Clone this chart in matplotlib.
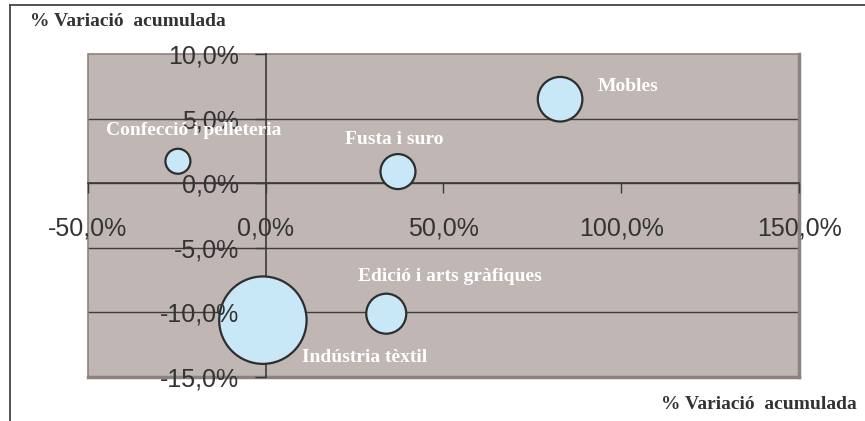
import matplotlib
matplotlib.use("Agg")
import matplotlib.pyplot as plt
from matplotlib.ticker import FuncFormatter, MultipleLocator
from matplotlib.lines import Line2D
from matplotlib.patches import Rectangle

sectors = ["Confecció i pelleteria", "Fusta i suro", "Mobles",
           "Edició i arts gràfiques", "Indústria tèxtil"]
var_x = [-24.7, 37.2, 82.8, 33.9, -0.8]      # % variació acumulada (eix X)
var_y = [1.7, 0.9, 6.5, -10.1, -10.6]        # % variació acumulada (eix Y)
bubble = [156, 306, 497, 400, 1910]          # mida relativa de la bombolla
axis_title = "% Variació  acumulada"

# label offsets in points from each bubble centre
offsets = [(11, 22), (-3, 23), (49, 9), (46, 27), (73, -27)]

def pct(v, pos):
    return "{:.1f}%".format(v).replace(".", ",")

fig = plt.figure(figsize=(8.65, 4.21), dpi=100)
ax = fig.add_axes([0.1017, 0.1045, 0.822, 0.7672])
ax.set_facecolor("#C0B6B4")

# bubble sizes: area proportional to the value (scale to points^2)
scale = 0.72 ** 2 * 4
sizes = [b * scale for b in bubble]
ax.scatter(var_x, var_y, s=sizes, facecolor="#C8E8F8", edgecolor="#2E2E2E",
           linewidth=1.6, zorder=4, clip_on=False)

for name, x, y, off in zip(sectors, var_x, var_y, offsets):
    ax.annotate(name, (x, y), xytext=off, textcoords="offset points",
                ha="center", va="center", color="white", fontweight="bold",
                fontsize=14, family="Liberation Serif", zorder=7)

ax.set_xlim(-50, 150)
ax.set_ylim(-15, 10)
ax.xaxis.set_major_locator(MultipleLocator(50))
ax.yaxis.set_major_locator(MultipleLocator(5))
ax.xaxis.set_major_formatter(FuncFormatter(pct))
ax.yaxis.set_major_formatter(FuncFormatter(pct))

# axes cross at zero, like the original
ax.spines["left"].set_position(("data", 0))
ax.spines["bottom"].set_position(("data", 0))
for s in ["left", "bottom"]:
    ax.spines[s].set_color("#3A3A3A")
    ax.spines[s].set_linewidth(1.2)
    ax.spines[s].set_zorder(3)
ax.spines["top"].set_visible(False)
ax.spines["right"].set_visible(False)

# horizontal gridlines drawn behind the bubbles
for v in ax.get_yticks():
    if -15 < v < 10:
        ax.axhline(v, color="#3E3E3E", linewidth=1.0, zorder=1)

ax.tick_params(axis="x", direction="out", length=7, width=1, color="#3A3A3A",
               pad=17, labelsize=18, labelcolor="#333333")
ax.tick_params(axis="y", direction="out", length=8, width=1, color="#3A3A3A",
               pad=11, labelsize=18, labelcolor="#333333")
for lab in ax.get_xticklabels() + ax.get_yticklabels():
    lab.set_family("Liberation Sans")
# tick labels sit on top of the bubbles, as in the original
ax.xaxis.set_zorder(6)
ax.yaxis.set_zorder(6)
# but the tick mark hidden under the big bubble is not shown
for t, v in zip(ax.yaxis.get_major_ticks(), ax.get_yticks()):
    if v == -10:
        t.tick1line.set_visible(False)

# plot area border
ax.add_patch(Rectangle((0, 0), 1, 1, transform=ax.transAxes, fill=False,
                       edgecolor="#8C8280", linewidth=1.2, zorder=2, clip_on=False))
ax.add_line(Line2D([0, 1], [0, 0], transform=ax.transAxes, color="#8C8280",
                   linewidth=2.5, zorder=2, clip_on=False))
ax.add_line(Line2D([1, 1], [0, 1], transform=ax.transAxes, color="#8C8280",
                   linewidth=2.5, zorder=2, clip_on=False))

# axis titles
fig.text(0.035, 0.95, axis_title, ha="left", va="center", fontsize=14,
         fontweight="bold", family="Liberation Serif", color="#333333")
fig.text(0.99, 0.04, axis_title, ha="right", va="center", fontsize=14,
         fontweight="bold", family="Liberation Serif", color="#333333")

# outer chart frame
fig.add_artist(Line2D([10 / 865, 1], [1 - 5 / 421, 1 - 5 / 421], color="#444444", linewidth=1.3))
fig.add_artist(Line2D([10 / 865, 10 / 865], [0, 1 - 5 / 421], color="#444444", linewidth=1.3))

fig.savefig("out.png", dpi=100)
